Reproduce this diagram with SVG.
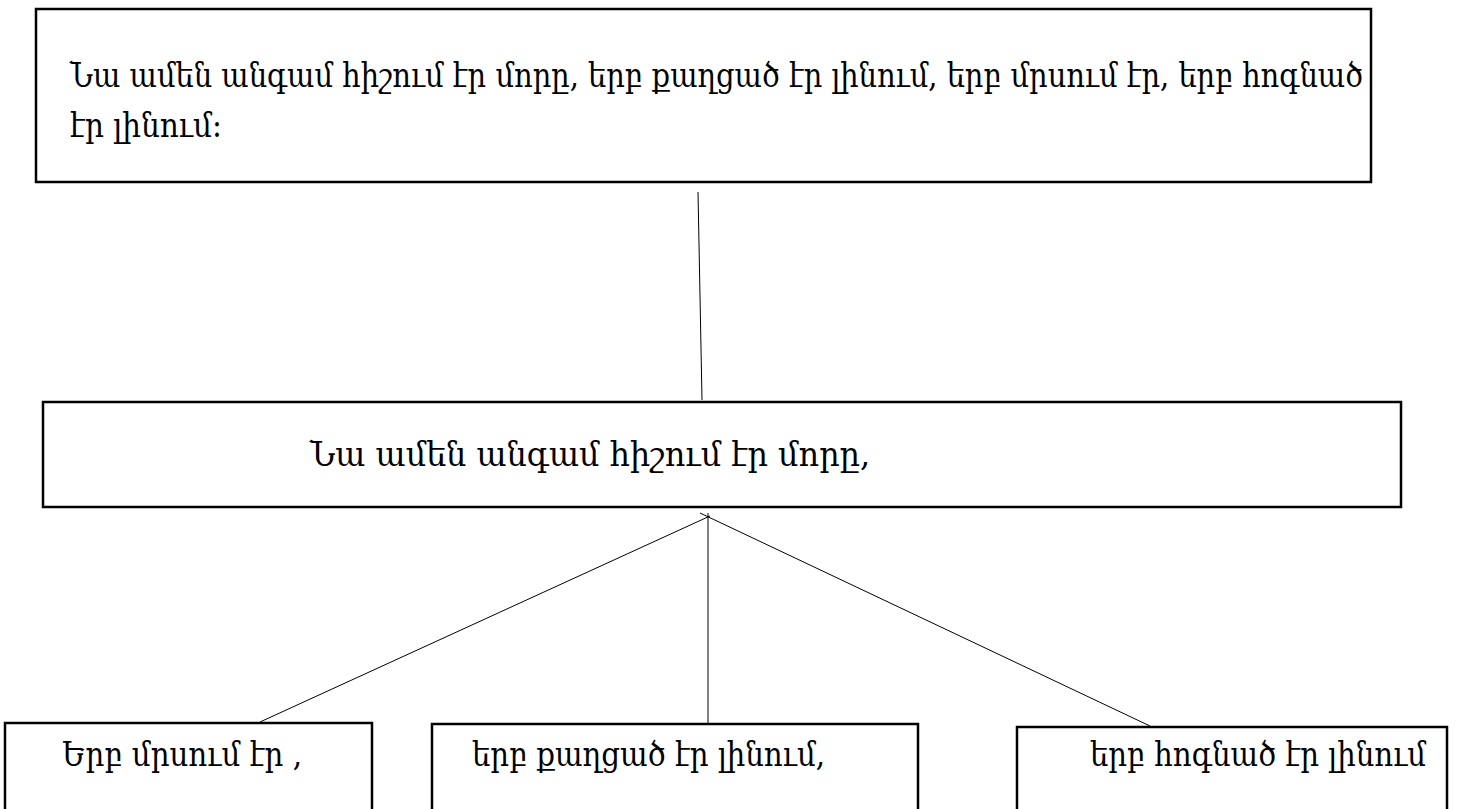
<svg xmlns="http://www.w3.org/2000/svg" width="1457" height="809" viewBox="0 0 1457 809">
<style>
.box{fill:#fff;stroke:#000;stroke-width:2.5}
.ln{stroke:#000;stroke-width:1;fill:none}
.t{font-family:"DejaVu Serif","Noto Serif",serif;font-size:33px;fill:#000}
</style>
<rect width="1457" height="809" fill="#fff"/>
<g id="n-top">
<rect class="box" x="36" y="9" width="1335" height="173"/>
<text class="t" x="70" y="87" textLength="1293" lengthAdjust="spacingAndGlyphs">Նա ամեն անգամ հիշում էր մորը, երբ քաղցած էր լինում, երբ մրսում էր, երբ հոգնած</text>
<text class="t" x="70" y="137" textLength="152" lengthAdjust="spacingAndGlyphs">էր լինում:</text>
</g>
<g id="connectors">
<line class="ln" x1="698" y1="192" x2="702" y2="400"/>
<line class="ln" x1="708" y1="513" x2="708" y2="723"/>
<line class="ln" x1="710" y1="516" x2="260" y2="722"/>
<line class="ln" x1="700" y1="513" x2="1150" y2="726"/>
</g>
<g id="n-mid">
<rect class="box" x="43" y="402" width="1358" height="105"/>
<text class="t" x="310" y="466" textLength="560" lengthAdjust="spacingAndGlyphs">Նա ամեն անգամ հիշում էր մորը,</text>
</g>
<g id="n-b1">
<rect class="box" x="5" y="723" width="367" height="100"/>
<text class="t" x="62" y="766" textLength="240" lengthAdjust="spacingAndGlyphs">Երբ մրսում էր ,</text>
</g>
<g id="n-b2">
<rect class="box" x="432" y="724" width="486" height="100"/>
<text class="t" x="472" y="766" textLength="353" lengthAdjust="spacingAndGlyphs">երբ քաղցած էր լինում,</text>
</g>
<g id="n-b3">
<rect class="box" x="1017" y="727" width="430" height="100"/>
<text class="t" x="1090" y="766" textLength="336" lengthAdjust="spacingAndGlyphs">երբ հոգնած էր լինում</text>
</g>
</svg>
